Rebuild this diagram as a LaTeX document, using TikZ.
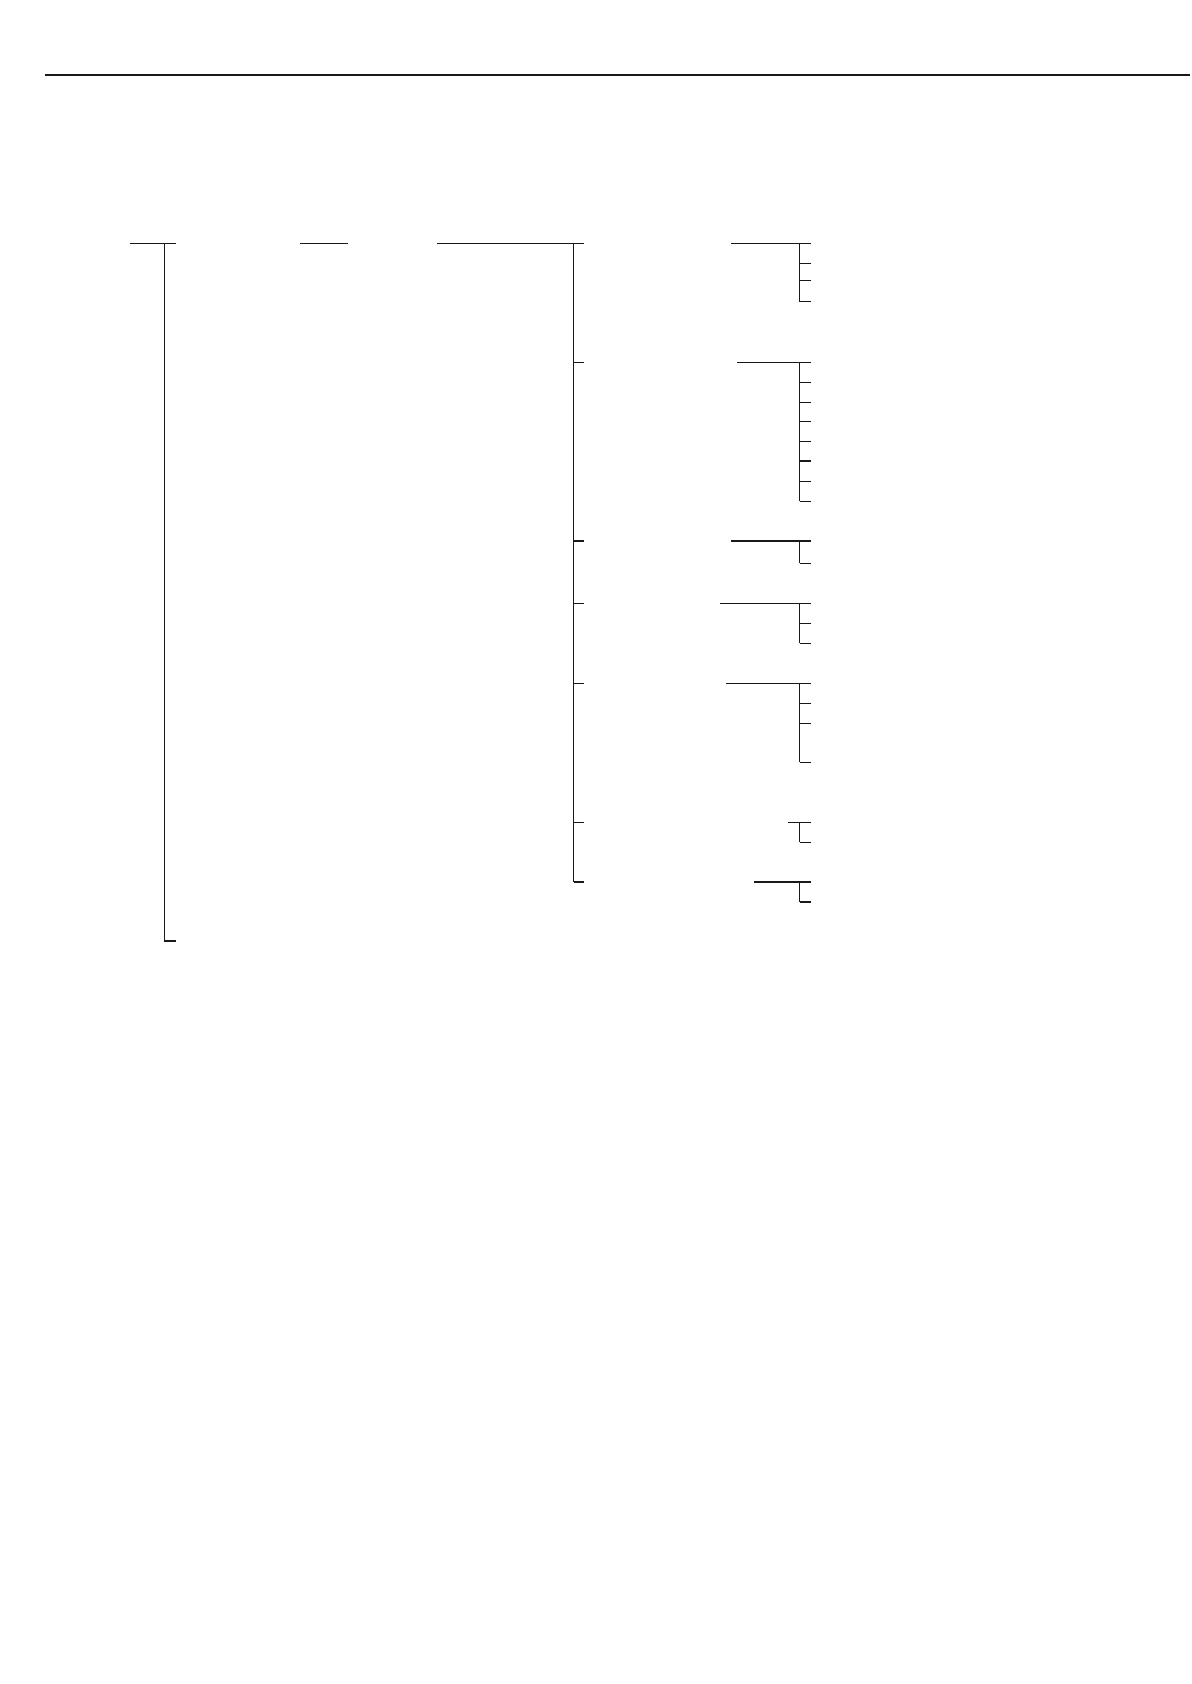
\documentclass[tikz,border=0pt]{standalone}
\begin{document}
\begin{tikzpicture}[
  x=0.5pt, y=-0.5pt,
  rule/.style={line width=0.55pt, draw=black!90},
  tick/.style={line width=0.55pt, draw=black!90}
]
\useasboundingbox (0,0) rectangle (1191,1684);

% --- header rule ---
\coordinate (RL) at (45,75);
\coordinate (RR) at (1190,75);
\draw[rule] (RL) -- (RR);

% --- level 0: root bracket ---
\coordinate (R0a) at (130,243.3);
\coordinate (R0b) at (176,243.3);
\coordinate (R0top) at (164.3,243.3);
\coordinate (R0bot) at (164.3,941);
\coordinate (R0end) at (176,941);
\draw[rule] (R0a) -- (R0b);
\draw[rule] (R0top) -- (R0bot) -- (R0end);

% --- level 1 and 2 ---
\coordinate (L1a) at (300,243.3);
\coordinate (L1b) at (347.7,243.3);
\draw[rule] (L1a) -- (L1b);

\coordinate (L2a) at (437.3,243.3);
\coordinate (L2b) at (584,243.3);
\draw[rule] (L2a) -- (L2b);

% --- level 3: main spine ---
\coordinate (S3top) at (573.5,243.3);
\coordinate (S3bot) at (573.5,882);
\draw[rule] (S3top) -- (S3bot);
\foreach \y in {362.3,541,603.3,683.3,822.3,882}
  \draw[tick] (573.5,\y) -- (584,\y);

% --- level 4: groups (head y / start x / ticks) ---
\foreach \hy/\hx/\last/\ticks in {
    243.3/731/301.7/{263.3,280.3,301.7},
    362.3/737/501.3/{382.3,402.3,421.3,441.3,461,481.3,501.3},
    541/731/563.3/{563.3},
    603.3/720/643.3/{623.3,643.3},
    683.3/726/762.3/{703.3,723.3,762.3},
    822.3/788/842.3/{842.3},
    882/754/902/{902}} {
  \draw[rule] (\hx,\hy) -- (810.7,\hy);
  \draw[rule] (799.7,\hy) -- (799.7,\last);
  \foreach \y in \ticks
    \draw[tick] (799.7,\y) -- (810.7,\y);
}

\end{tikzpicture}
\end{document}
